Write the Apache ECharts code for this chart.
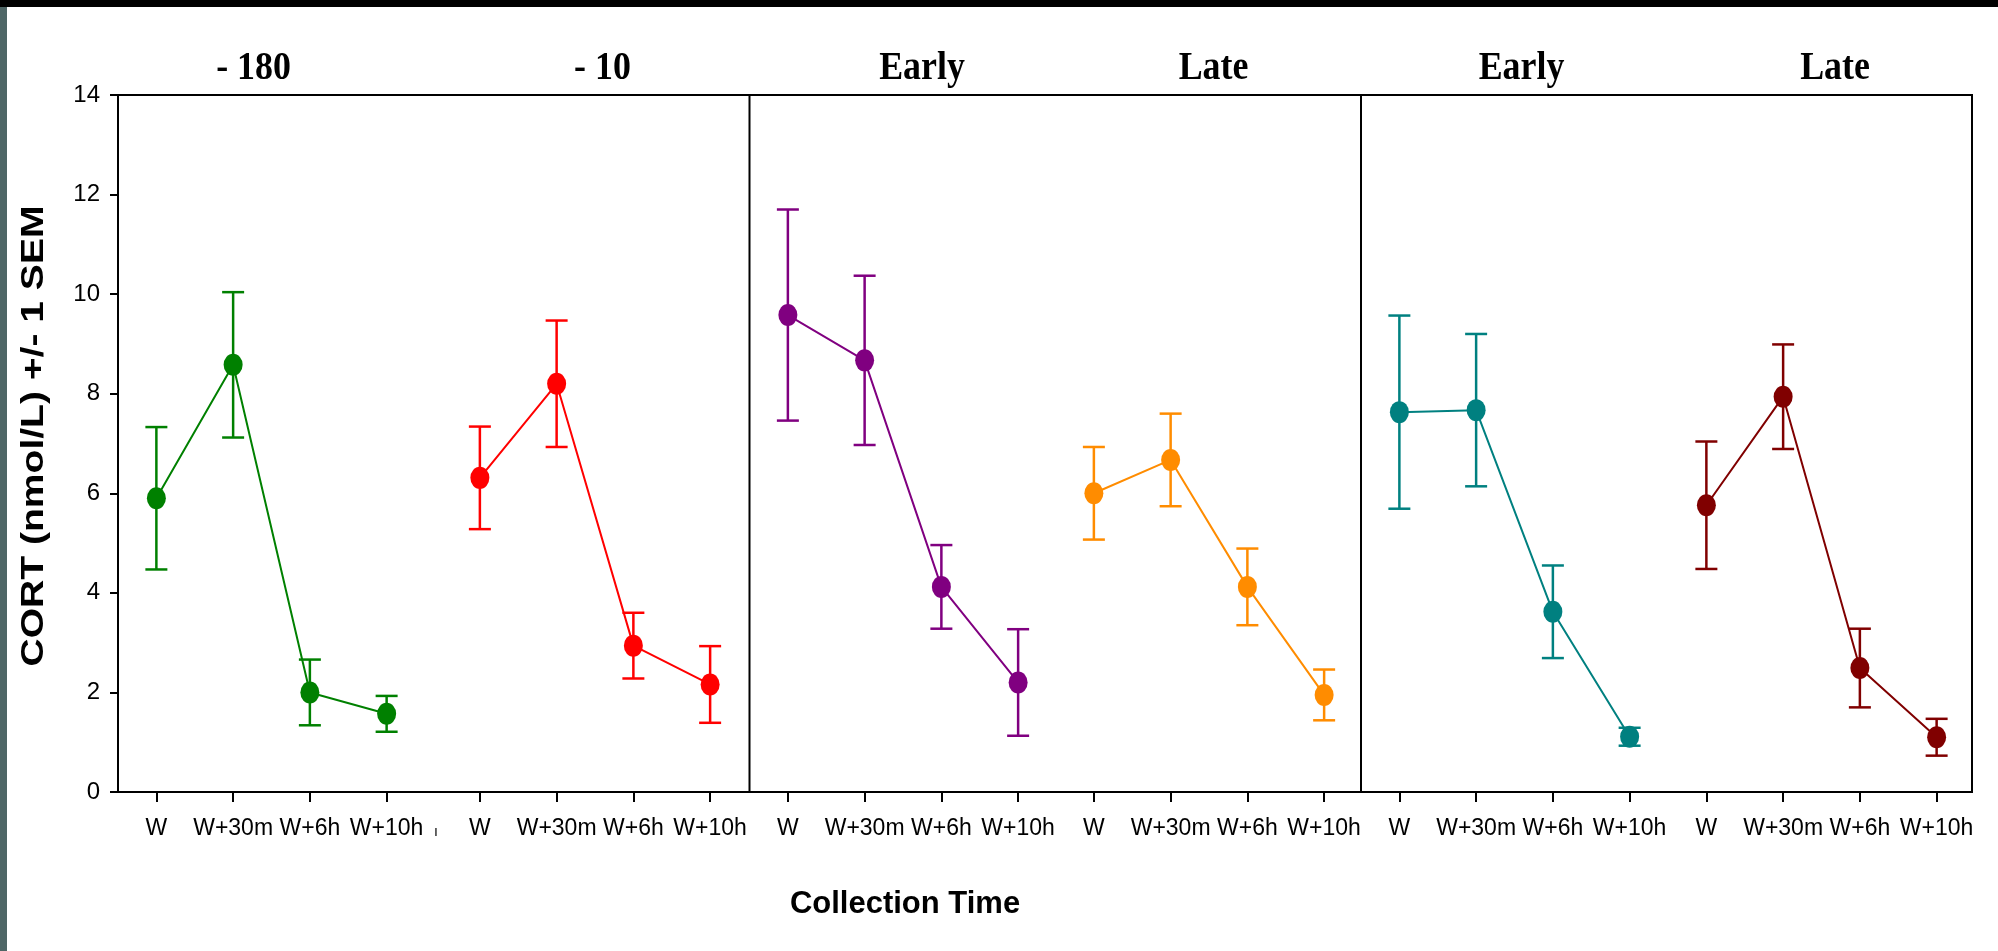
<!DOCTYPE html>
<html>
<head>
<meta charset="utf-8">
<script src="https://cdn.jsdelivr.net/npm/echarts@6/dist/echarts.min.js"></script>
<style>
  html, body { margin: 0; padding: 0; background: #ffffff; }
  #chart { width: 1998px; height: 951px; }
</style>
</head>
<body>
<div id="chart"></div>
<script>
// Collection times shared by every group
const timePoints = ['W', 'W+30m', 'W+6h', 'W+10h'];

// Group headings, left to right
const groupTitles = ['- 180', '- 10', 'Early', 'Late', 'Early', 'Late'];

// Mean cortisol (nmol/L) per group
const cortMinus180 = [5.90, 8.58, 2.00, 1.57];
const cortMinus10 = [6.31, 8.20, 2.94, 2.16];
const cortEarlyA = [9.58, 8.67, 4.12, 2.20];
const cortLateA = [6.00, 6.67, 4.12, 1.95];
const cortEarlyB = [7.63, 7.67, 3.62, 1.11];
const cortLateB = [5.76, 7.94, 2.49, 1.10];

// One standard error of the mean per group
const semMinus180 = [1.43, 1.46, 0.66, 0.36];
const semMinus10 = [1.03, 1.27, 0.66, 0.77];
const semEarlyA = [2.12, 1.70, 0.84, 1.07];
const semLateA = [0.93, 0.93, 0.77, 0.51];
const semEarlyB = [1.94, 1.53, 0.93, 0.18];
const semLateB = [1.28, 1.05, 0.79, 0.37];

// Y axis scale
const yMin = 0;
const yMax = 14;
const yStep = 2;

const groupMeans = [cortMinus180, cortMinus10, cortEarlyA, cortLateA, cortEarlyB, cortLateB];
const groupSems = [semMinus180, semMinus10, semEarlyA, semLateA, semEarlyB, semLateB];
const groupColors = ['#008000', '#ff0000', '#800080', '#ff8c00', '#008080', '#800000'];

// Layout (pixels)
const plotTop = 95;
const plotHeight = 697;
const groupLeft = [118, 441.5, 749.5, 1055.5, 1361, 1668];
const groupWidth = 307;
const frameLeft = 118;
const frameRight = 1972;
const dividerX = [749.5, 1361];
const titleX = [253.5, 602.5, 922, 1213.5, 1521.5, 1835];
const capHalf = 11;

const chart = echarts.init(document.getElementById('chart'), null, { renderer: 'canvas' });

const grids = groupLeft.map(left => ({
  left: left, top: plotTop, width: groupWidth, height: plotHeight,
  containLabel: false, outerBoundsMode: 'none'
}));

const xAxes = groupLeft.map((_, i) => ({
  type: 'category',
  gridIndex: i,
  data: timePoints,
  boundaryGap: true,
  axisLine: { show: false },
  axisTick: { show: true, alignWithLabel: true, length: 10, lineStyle: { color: '#000', width: 2 } },
  axisLabel: { show: true, interval: 0, margin: 25, color: '#000', fontSize: 23, fontFamily: '"Liberation Sans", Arial, sans-serif' },
  splitLine: { show: false }
}));

const yAxes = groupLeft.map((_, i) => ({
  type: 'value',
  gridIndex: i,
  min: yMin, max: yMax, interval: yStep,
  axisLine: { show: false },
  axisTick: { show: i === 0, length: 8, lineStyle: { color: '#000', width: 2 } },
  axisLabel: { show: i === 0, margin: 18, color: '#000', fontSize: 24, fontFamily: '"Liberation Sans", Arial, sans-serif' },
  splitLine: { show: false }
}));

function renderErrorBar(params, api) {
  const idx = api.value(0);
  const lo = api.coord([idx, api.value(1)]);
  const hi = api.coord([idx, api.value(2)]);
  const style = { stroke: api.visual('color'), lineWidth: 2.5, fill: null };
  return {
    type: 'group',
    children: [
      { type: 'line', shape: { x1: hi[0], y1: hi[1], x2: lo[0], y2: lo[1] }, style: style },
      { type: 'line', shape: { x1: hi[0] - capHalf, y1: hi[1], x2: hi[0] + capHalf, y2: hi[1] }, style: style },
      { type: 'line', shape: { x1: lo[0] - capHalf, y1: lo[1], x2: lo[0] + capHalf, y2: lo[1] }, style: style }
    ]
  };
}

const series = [];
groupMeans.forEach((means, i) => {
  const sems = groupSems[i];
  series.push({
    type: 'custom',
    name: groupTitles[i] + ' SEM',
    xAxisIndex: i, yAxisIndex: i,
    itemStyle: { color: groupColors[i] },
    renderItem: renderErrorBar,
    encode: { x: 0, y: [1, 2] },
    data: means.map((m, j) => [j, m - sems[j], m + sems[j]]),
    z: 2, silent: true
  });
  series.push({
    type: 'line',
    name: groupTitles[i],
    xAxisIndex: i, yAxisIndex: i,
    data: means,
    symbol: 'circle',
    symbolSize: [19, 22],
    lineStyle: { color: groupColors[i], width: 2 },
    itemStyle: { color: groupColors[i] },
    z: 3, silent: true, animation: false
  });
});

const graphics = [
  // edge strips
  { type: 'rect', shape: { x: 0, y: 0, width: 1998, height: 7 }, style: { fill: '#000' }, z: 0 },
  { type: 'rect', shape: { x: 0, y: 7, width: 7, height: 944 }, style: { fill: '#4e6666' }, z: 0 },
  // plot frame and panel dividers
  { type: 'rect', shape: { x: frameLeft, y: plotTop, width: frameRight - frameLeft, height: plotHeight },
    style: { fill: null, stroke: '#000', lineWidth: 2 }, z: 1 },
  ...dividerX.map(x => ({ type: 'line', shape: { x1: x, y1: plotTop, x2: x, y2: plotTop + plotHeight },
    style: { stroke: '#000', lineWidth: 2 }, z: 1 })),
  // group headings
  ...groupTitles.map((t, i) => ({
    type: 'text', x: titleX[i], y: 68.5, scaleX: 0.875, z: 5,
    style: { text: t, fill: '#000', fontSize: 41, fontWeight: 'bold', fontFamily: '"Liberation Serif", "Times New Roman", serif',
      align: 'center', verticalAlign: 'middle' }
  })),
  // stray separator mark between the first two groups
  { type: 'text', x: 436, y: 832, z: 5,
    style: { text: 'ı', fill: '#000', fontSize: 14, fontFamily: '"Liberation Sans", Arial, sans-serif', align: 'center', verticalAlign: 'middle' } },
  // axis titles
  { type: 'text', x: 905, y: 904, z: 5,
    style: { text: 'Collection Time', fill: '#000', fontSize: 31, fontWeight: 'bold', fontFamily: '"Liberation Sans", Arial, sans-serif',
      align: 'center', verticalAlign: 'middle' } },
  { type: 'text', x: 34, y: 436, rotation: Math.PI / 2, scaleX: 1.22, z: 5,
    style: { text: 'CORT (nmol/L) +/- 1 SEM', fill: '#000', fontSize: 32, fontWeight: 'bold', fontFamily: '"Liberation Sans", Arial, sans-serif',
      align: 'center', verticalAlign: 'middle' } }
];

chart.setOption({
  backgroundColor: '#ffffff',
  animation: false,
  grid: grids,
  xAxis: xAxes,
  yAxis: yAxes,
  series: series,
  graphic: graphics
});
</script>
</body>
</html>
